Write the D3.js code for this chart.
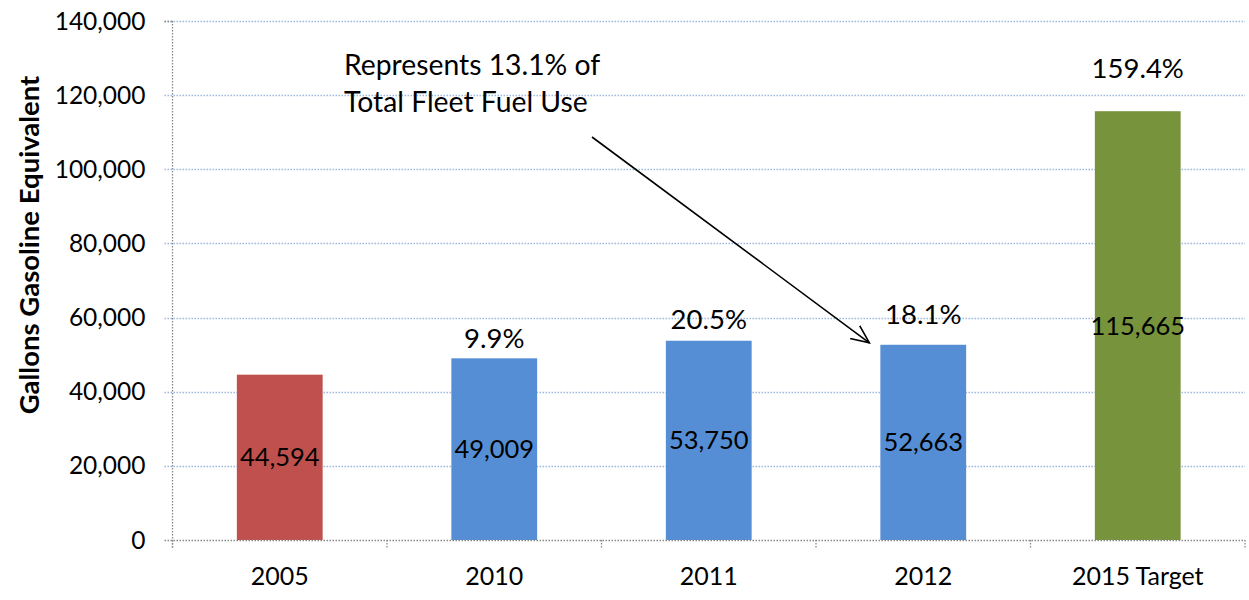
<!DOCTYPE html>
<html><head><meta charset="utf-8">
<script src="https://cdn.jsdelivr.net/npm/d3@7"></script>
<style>body{margin:0;background:#fff}svg{display:block}text{font-family:Lato,"Open Sans",sans-serif;fill:#000}</style>
</head><body><svg id="c" width="1249" height="600"></svg>
<script>
const categories = ["2005", "2010", "2011", "2012", "2015 Target"];
const values = [44594, 49009, 53750, 52663, 115665];
const valueLabels = ["44,594", "49,009", "53,750", "52,663", "115,665"];
const pctLabels = ["", "9.9%", "20.5%", "18.1%", "159.4%"];
const barColors = ["#C0504D", "#558ED5", "#558ED5", "#558ED5", "#77933C"];
const yTicks = [0, 20000, 40000, 60000, 80000, 100000, 120000, 140000];
const yTitle = "Gallons Gasoline Equivalent";
const noteLines = ["Represents 13.1% of", "Total Fleet Fuel Use"];

const svg = d3.select("#c");
const L = 172.5, R = 1245, T = 21, B = 540;
const x = d3.scaleBand().domain(categories).range([L, R]).paddingInner(0.6).paddingOuter(0.3);
const y = d3.scaleLinear().domain([0, 140000]).range([B, T]);

// gridlines
svg.append("g").selectAll("line").data(yTicks.filter(d => d > 0)).join("line")
  .attr("x1", L - 8).attr("x2", R).attr("y1", d => Math.round(y(d)) + 0.5).attr("y2", d => Math.round(y(d)) + 0.5)
  .attr("stroke", "#9bb7de").attr("stroke-width", 1.3).attr("stroke-dasharray", "1.5,1.5");

// bars
svg.append("g").selectAll("rect").data(values).join("rect")
  .attr("x", (d, i) => x(categories[i])).attr("width", x.bandwidth())
  .attr("y", d => y(d)).attr("height", d => B - y(d))
  .attr("fill", (d, i) => barColors[i]);

// axes (dotted gray)
const ax = svg.append("g").attr("stroke", "#888").attr("stroke-width", 1.3).attr("stroke-dasharray", "1.5,1.5");
ax.append("line").attr("x1", L).attr("x2", L).attr("y1", T).attr("y2", B + 8);
ax.append("line").attr("x1", L - 8).attr("x2", R).attr("y1", B + 0.5).attr("y2", B + 0.5);
ax.append("line").attr("x1", L - 8).attr("x2", L).attr("y1", T + 0.5).attr("y2", T + 0.5);
const step = (R - L) / categories.length;
ax.selectAll(".xt").data(d3.range(categories.length + 1)).join("line")
  .attr("x1", i => L + i * step).attr("x2", i => L + i * step).attr("y1", B).attr("y2", B + 8);

// y tick labels
svg.append("g").selectAll("text").data(yTicks).join("text")
  .attr("x", L - 27).attr("y", d => y(d)).attr("dy", "0.35em").attr("text-anchor", "end")
  .attr("font-size", 24.5).text(d => d3.format(",")(d));

// x labels
svg.append("g").selectAll("text").data(categories).join("text")
  .attr("x", d => x(d) + x.bandwidth() / 2).attr("y", 585).attr("text-anchor", "middle")
  .attr("font-size", 25).text(d => d);

// value labels centered in bars
svg.append("g").selectAll("text").data(values).join("text")
  .attr("x", (d, i) => x(categories[i]) + x.bandwidth() / 2).attr("y", d => (y(d) + B) / 2)
  .attr("dy", "0.35em").attr("text-anchor", "middle").attr("font-size", 25.5)
  .text((d, i) => valueLabels[i]);

// percent labels above bars
const pctGap = [20, 20, 21, 30, 43];
svg.append("g").selectAll("text").data(values).join("text")
  .attr("x", (d, i) => x(categories[i]) + x.bandwidth() / 2).attr("y", (d, i) => y(d) - pctGap[i])
  .attr("dy", "0.35em").attr("text-anchor", "middle").attr("font-size", 27.5)
  .text((d, i) => pctLabels[i]);

// y title
svg.append("text").attr("transform", "translate(39,245) rotate(-90)").attr("text-anchor", "middle")
  .attr("font-size", 27.5).attr("font-weight", "bold").text(yTitle);

// annotation
svg.append("g").selectAll("text").data(noteLines).join("text")
  .attr("x", 344).attr("y", (d, i) => 75 + i * 37).attr("font-size", 28.3).text(d => d);

// arrow
svg.append("defs").append("marker").attr("id", "ah").attr("viewBox", "0 0 20 20").attr("refX", 18).attr("refY", 10)
  .attr("markerWidth", 20).attr("markerHeight", 20).attr("markerUnits", "userSpaceOnUse").attr("orient", "auto")
  .append("path").attr("d", "M0,2 L18,10 L0,18").attr("fill", "none").attr("stroke", "#000").attr("stroke-width", 1.6);
const x2012 = x("2012");
svg.append("line").attr("x1", 592).attr("y1", 137).attr("x2", x2012 - 11).attr("y2", y(values[3]) - 2)
  .attr("stroke", "#000").attr("stroke-width", 1.6).attr("marker-end", "url(#ah)");
</script></body></html>
